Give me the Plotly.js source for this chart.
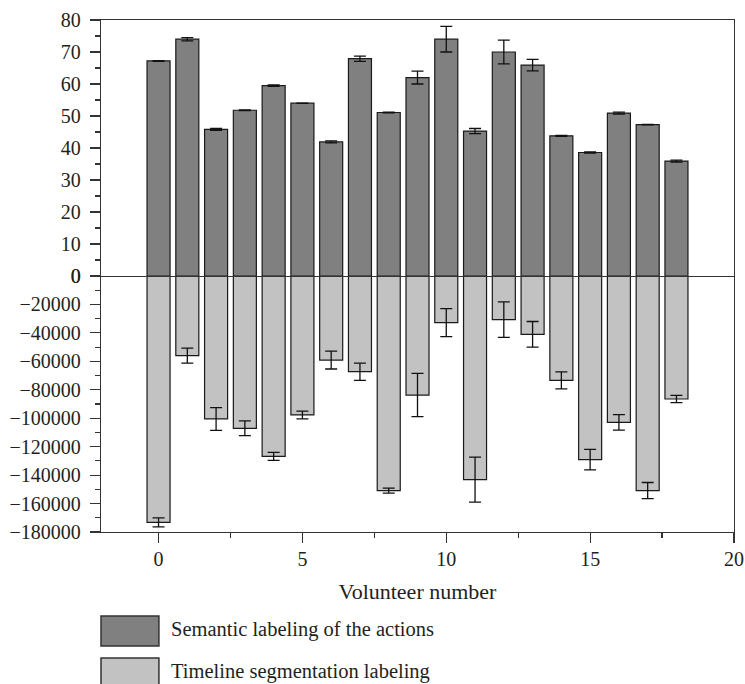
<!DOCTYPE html>
<html>
<head>
<meta charset="utf-8">
<script src="https://cdn.plot.ly/plotly-3.0.1.min.js"></script>
<style>html,body{margin:0;padding:0;background:#fff;}#chart{width:745px;height:684px;}</style>
</head>
<body>
<div id="chart"></div>
<script>
// Data
const volunteers = [0,1,2,3,4,5,6,7,8,9,10,11,12,13,14,15,16,17,18];
const semantic = [67.2,74.0,45.8,51.8,59.5,54.0,41.9,67.9,51.1,62.0,74.0,45.3,70.0,65.9,43.8,38.6,50.9,47.3,35.9];
const semanticErr = [0.1,0.5,0.3,0.1,0.2,0.05,0.3,0.8,0.1,2.0,4.0,0.8,3.7,1.8,0.15,0.2,0.3,0.1,0.3];
const timeline = [-173200,-56000,-100500,-107100,-126800,-97700,-59100,-67300,-150900,-83700,-32800,-143200,-30700,-41000,-73400,-129100,-102900,-150900,-86500];
const timelineErr = [3200,5300,8000,5200,2800,2700,6300,6100,1800,15200,9800,15800,12500,9000,6000,7200,5400,5700,2500];
const legendLabels = ["Semantic labeling of the actions","Timeline segmentation labeling"];
const xTickVals = [0,5,10,15,20];

const darkFill = "#808080";
const lightFill = "#c1c2c1";
const fontFam = "Liberation Serif, Times New Roman, serif";

const traces = [
  {
    type: "bar", x: volunteers, y: semantic, width: 0.8,
    xaxis: "x2", yaxis: "y2", name: legendLabels[0],
    marker: {color: darkFill, line: {color: "#1a1a1a", width: 1.2}},
    error_y: {type: "data", array: semanticErr, visible: true, color: "#111", thickness: 1.3, width: 6}
  },
  {
    type: "bar", x: volunteers, y: timeline, width: 0.8,
    xaxis: "x", yaxis: "y", name: legendLabels[1],
    marker: {color: lightFill, line: {color: "#1a1a1a", width: 1.2}},
    error_y: {type: "data", array: timelineErr, visible: true, color: "#111", thickness: 1.3, width: 6}
  }
];

const tickFont = {family: fontFam, size: 20, color: "#231f20"};
const axisLine = {showline: true, linecolor: "#333", linewidth: 1.2};

const layout = {
  width: 745, height: 684,
  margin: {l: 101, r: 11, t: 20, b: 152},
  paper_bgcolor: "#fff", plot_bgcolor: "#fff",
  showlegend: false,
  font: {family: fontFam, color: "#231f20"},
  xaxis: Object.assign({
    domain: [0, 1], anchor: "y", range: [-2, 20],
    tickmode: "array", tickvals: xTickVals, ticktext: xTickVals.map(String),
    ticks: "outside", ticklen: 10, tickwidth: 1.2, tickcolor: "#333",
    minor: {dtick: 2.5, tick0: 0, ticks: "outside", ticklen: 5, tickwidth: 1.2, tickcolor: "#333", showgrid: false},
    showgrid: false, zeroline: false, tickfont: tickFont, ticklabelstandoff: -1,
    title: {text: "Volunteer number", font: {family: fontFam, size: 22, color: "#231f20"}, standoff: 14}
  }, axisLine),
  yaxis: Object.assign({
    domain: [0, 0.5], anchor: "x", range: [-180000, 0],
    dtick: 20000, tick0: 0, tickformat: "d",
    ticks: "outside", ticklen: 10, tickwidth: 1.2, tickcolor: "#333",
    minor: {dtick: 10000, tick0: 0, ticks: "outside", ticklen: 5, tickwidth: 1.2, tickcolor: "#333", showgrid: false},
    showgrid: false, zeroline: false, tickfont: tickFont, ticklabelstandoff: 5,
    mirror: true
  }, axisLine),
  xaxis2: Object.assign({
    domain: [0, 1], anchor: "y2", matches: "x", range: [-2, 20],
    showticklabels: false, ticks: "", showgrid: false, zeroline: false, mirror: true
  }, axisLine),
  yaxis2: Object.assign({
    domain: [0.5, 1], anchor: "x2", range: [0, 80],
    dtick: 10, tick0: 0, tickformat: "d",
    ticks: "outside", ticklen: 10, tickwidth: 1.2, tickcolor: "#333",
    minor: {dtick: 5, tick0: 0, ticks: "outside", ticklen: 5, tickwidth: 1.2, tickcolor: "#333", showgrid: false},
    showgrid: false, zeroline: false, tickfont: tickFont, ticklabelstandoff: 5,
    mirror: true
  }, axisLine),
  shapes: [
    {type: "rect", xref: "paper", yref: "paper", x0: 0, x1: 0.0915, y0: -0.1641, y1: -0.2227,
     fillcolor: darkFill, line: {color: "#333", width: 1.5}},
    {type: "rect", xref: "paper", yref: "paper", x0: 0, x1: 0.0915, y0: -0.2461, y1: -0.3027,
     fillcolor: lightFill, line: {color: "#333", width: 1.5}}
  ],
  annotations: [
    {xref: "paper", yref: "paper", x: 0.108, y: -0.1914, xanchor: "left", yanchor: "middle",
     text: legendLabels[0], showarrow: false, font: {family: fontFam, size: 20.5, color: "#231f20"}},
    {xref: "paper", yref: "paper", x: 0.108, y: -0.2730, xanchor: "left", yanchor: "middle",
     text: legendLabels[1], showarrow: false, font: {family: fontFam, size: 20.5, color: "#231f20"}}
  ]
};

Plotly.newPlot("chart", traces, layout, {displayModeBar: false, staticPlot: true});
</script>
</body>
</html>
